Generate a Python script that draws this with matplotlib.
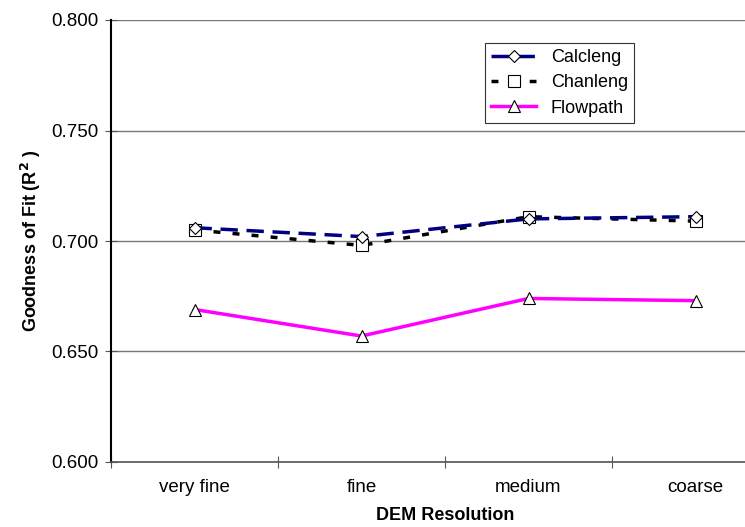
import matplotlib
matplotlib.use("Agg")
import matplotlib.pyplot as plt

plt.rcParams['font.family'] = ['Liberation Sans', 'DejaVu Sans']

# data
categories = ['very fine', 'fine', 'medium', 'coarse']
calcleng = [0.706, 0.702, 0.710, 0.711]
chanleng = [0.705, 0.698, 0.711, 0.709]
flowpath = [0.669, 0.657, 0.674, 0.673]
yticks = [0.600, 0.650, 0.700, 0.750, 0.800]

W, H = 745, 527
fig = plt.figure(figsize=(W / 100, H / 100), dpi=100)
# plot area runs past the right edge (cropped like the original)
left, right, top, bottom = 111, 779, 20, 462
ax = fig.add_axes([left / W, 1 - bottom / H, (right - left) / W, (bottom - top) / H])

x = [i + 0.5 for i in range(len(categories))]

ax.plot(x, calcleng, color='#000080', lw=2.5, dashes=(5, 2.5),
        marker='D', ms=6, mfc='white', mec='black', mew=0.8, label='Calcleng', zorder=4)
ax.plot(x, chanleng, color='black', lw=2.5, dashes=(2, 3.5),
        marker='s', ms=8, mfc='white', mec='black', mew=0.8, label='Chanleng', zorder=3)
ax.plot(x, flowpath, color='#ff00ff', lw=2.5,
        marker='^', ms=8, mfc='white', mec='black', mew=0.8, label='Flowpath', zorder=3)

ax.set_xlim(0, 4)
ax.set_ylim(0.6, 0.8)
ax.set_yticks(yticks)
ax.set_yticklabels(['%.3f' % v for v in yticks])
ax.set_xticks([0, 1, 2, 3, 4])
ax.set_xticklabels([])
ax.set_xticks(x, minor=True)
ax.set_xticklabels(categories, minor=True)
ax.tick_params(axis='x', which='minor', length=0, pad=12, labelsize=13.5)
ax.tick_params(axis='x', which='major', direction='inout', length=8, width=0.8, color='#555555')
ax.tick_params(axis='y', direction='inout', length=8, width=0.8, labelsize=13.5, color='#555555', pad=5)

ax.yaxis.grid(True, color='#777777', lw=1)
ax.set_axisbelow(True)
for s in ['top', 'right']:
    ax.spines[s].set_visible(False)
ax.spines['left'].set_linewidth(1.5)
ax.spines['bottom'].set_color('#555555')
ax.spines['bottom'].set_linewidth(1.2)

ax.set_xlabel('DEM Resolution', fontsize=13, fontweight='bold', labelpad=8)
ax.set_ylabel(r'Goodness of Fit (R$^{\mathbf{2}}$ )', fontsize=13, fontweight='bold', labelpad=6)

leg = ax.legend(loc='upper left', bbox_to_anchor=(485 / W, 1 - 43 / H),
                bbox_transform=fig.transFigure,
                frameon=True, fancybox=False, edgecolor='black', fontsize=13,
                handlelength=2.5, handletextpad=0.8, borderpad=0.35, labelspacing=0.45,
                borderaxespad=0)
leg.get_frame().set_linewidth(0.8)

fig.savefig('out.png', dpi=100)
